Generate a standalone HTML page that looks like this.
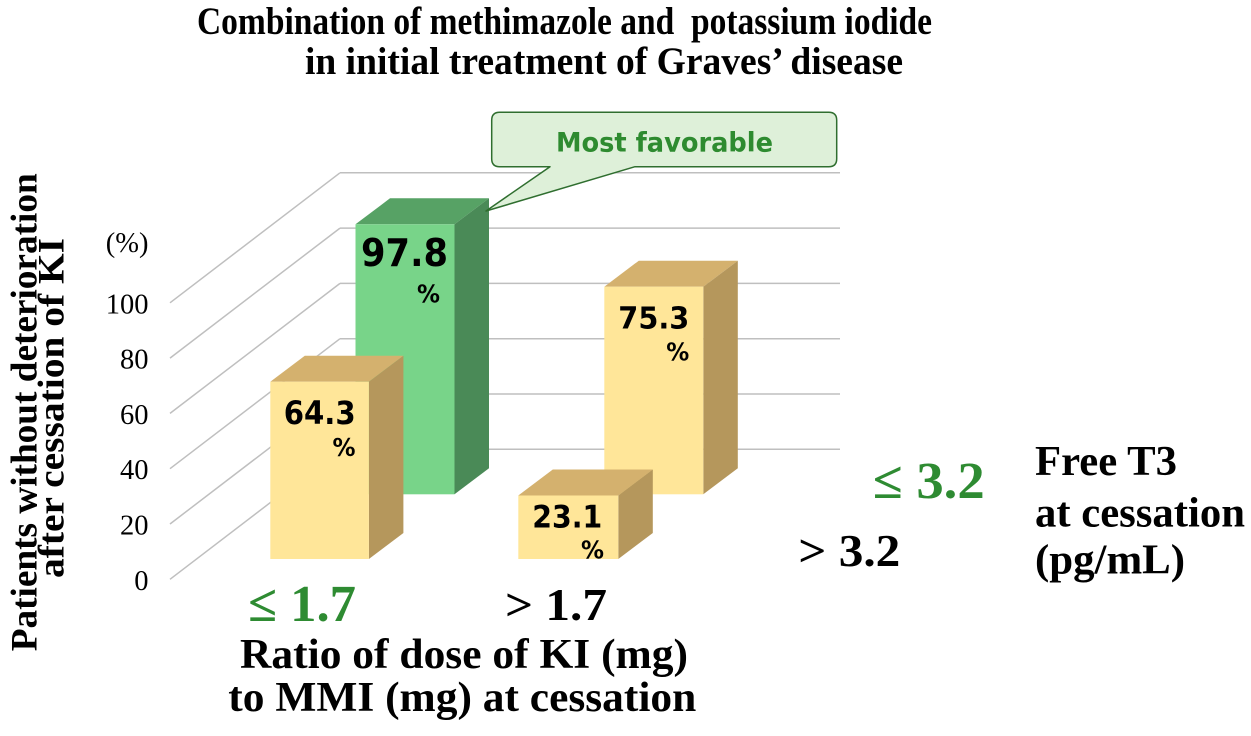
<!DOCTYPE html>
<html>
<head>
<meta charset="utf-8">
<style>
  html,body{margin:0;padding:0;background:#fff;}
  svg{display:block;}
  .serif{font-family:"Liberation Serif","DejaVu Serif",serif;font-weight:bold;}
  .serifr{font-family:"Liberation Serif","DejaVu Serif",serif;font-weight:normal;}
  .sans{font-family:"DejaVu Sans","Liberation Sans",sans-serif;font-weight:bold;}
</style>
</head>
<body>
<svg width="1251" height="736" viewBox="0 0 1251 736" xmlns="http://www.w3.org/2000/svg">
  <rect width="1251" height="736" fill="#ffffff"/>

  <!-- Title -->
  <text class="serif" x="197" y="34" font-size="39" fill="#000" textLength="735" lengthAdjust="spacingAndGlyphs" xml:space="preserve">Combination of methimazole and  potassium iodide</text>
  <text class="serif" x="305" y="74" font-size="39" fill="#000" textLength="598" lengthAdjust="spacingAndGlyphs">in initial treatment of Graves’ disease</text>

  <!-- Gridlines: back wall -->
  <g stroke="#BFBFBF" stroke-width="1.5" fill="none">
    <line x1="340" y1="172.8" x2="840" y2="172.8"/>
    <line x1="340" y1="228.1" x2="840" y2="228.1"/>
    <line x1="340" y1="283.4" x2="840" y2="283.4"/>
    <line x1="340" y1="338.7" x2="840" y2="338.7"/>
    <line x1="340" y1="394.0" x2="840" y2="394.0"/>
    <line x1="340" y1="449.3" x2="840" y2="449.3"/>
    <!-- side wall diagonals -->
    <line x1="170" y1="302.8" x2="340" y2="172.8"/>
    <line x1="170" y1="358.1" x2="340" y2="228.1"/>
    <line x1="170" y1="413.4" x2="340" y2="283.4"/>
    <line x1="170" y1="468.7" x2="340" y2="338.7"/>
    <line x1="170" y1="524.0" x2="340" y2="394.0"/>
    <line x1="170" y1="579.3" x2="340" y2="449.3"/>
  </g>

  <!-- Tick labels -->
  <g class="serifr" font-size="28.5" fill="#000" text-anchor="end">
    <text x="148.5" y="252">(%)</text>
    <text x="148.5" y="313.3">100</text>
    <text x="148.5" y="368.6">80</text>
    <text x="148.5" y="423.9">60</text>
    <text x="148.5" y="479.2">40</text>
    <text x="148.5" y="534.5">20</text>
    <text x="148.5" y="589.8">0</text>
  </g>

  <!-- Y axis title -->
  <text class="serif" transform="translate(36.7,412.3) rotate(-90)" x="0" y="0" font-size="37" text-anchor="middle" fill="#000" textLength="478" lengthAdjust="spacingAndGlyphs">Patients without deterioration</text>
  <text class="serif" transform="translate(63.3,408) rotate(-90)" x="0" y="0" font-size="37" text-anchor="middle" fill="#000" textLength="340" lengthAdjust="spacingAndGlyphs">after cessation of KI</text>

  <!-- Back row bars -->
  <g>
    <polygon points="355.5,224.3 390,198.3 489,198.3 454.5,224.3" fill="#57A265"/>
    <polygon points="454.5,224.3 489,198.3 489,468.3 454.5,494.3" fill="#4A8A57"/>
    <rect x="355.5" y="224.3" width="99" height="270" fill="#78D489"/>
  </g>
  <g>
    <polygon points="604.3,286.7 638.8,260.7 737.8,260.7 703.3,286.7" fill="#D4B16E"/>
    <polygon points="703.3,286.7 737.8,260.7 737.8,468.3 703.3,494.3" fill="#B5975C"/>
    <rect x="604.3" y="286.7" width="99" height="207.6" fill="#FFE699"/>
  </g>

  <!-- Front row bars -->
  <g>
    <polygon points="270.3,381.7 304.8,355.7 403.4,355.7 368.9,381.7" fill="#D4B16E"/>
    <polygon points="368.9,381.7 403.4,355.7 403.4,533 368.9,559" fill="#B5975C"/>
    <rect x="270.3" y="381.7" width="98.6" height="177.3" fill="#FFE699"/>
  </g>
  <g>
    <polygon points="518.3,495.5 552.8,469.5 652.8,469.5 618.3,495.5" fill="#D4B16E"/>
    <polygon points="618.3,495.5 652.8,469.5 652.8,533 618.3,559" fill="#B5975C"/>
    <rect x="518.3" y="495.5" width="100" height="63.5" fill="#FFE699"/>
  </g>

  <!-- Bar value labels -->
  <g class="sans" fill="#000">
    <text x="361" y="266" font-size="38" textLength="87" lengthAdjust="spacingAndGlyphs">97.8</text>
    <text x="440" y="302.7" font-size="25" text-anchor="end" textLength="23" lengthAdjust="spacingAndGlyphs">%</text>

    <text x="283.7" y="424" font-size="32" textLength="72" lengthAdjust="spacingAndGlyphs">64.3</text>
    <text x="355.5" y="456" font-size="25" text-anchor="end" textLength="23" lengthAdjust="spacingAndGlyphs">%</text>

    <text x="618.3" y="328.3" font-size="30" textLength="71" lengthAdjust="spacingAndGlyphs">75.3</text>
    <text x="689.3" y="360.7" font-size="25" text-anchor="end" textLength="23" lengthAdjust="spacingAndGlyphs">%</text>

    <text x="532.3" y="527.3" font-size="31" textLength="70" lengthAdjust="spacingAndGlyphs">23.1</text>
    <text x="604" y="558.5" font-size="25" text-anchor="end" textLength="23" lengthAdjust="spacingAndGlyphs">%</text>
  </g>

  <!-- Callout -->
  <path d="M499.7,112.3 H828.7 Q836.7,112.3 836.7,120.3 V158.7 Q836.7,166.7 828.7,166.7 H635 L486,211 L550,166.7 H499.7 Q491.7,166.7 491.7,158.7 V120.3 Q491.7,112.3 499.7,112.3 Z" fill="#DEF0D9" stroke="#2F6E2F" stroke-width="1.5" stroke-linejoin="round"/>
  <text class="sans" x="556" y="151.5" font-size="27" fill="#2E8B30" textLength="217" lengthAdjust="spacingAndGlyphs">Most favorable</text>

  <!-- Category labels -->
  <text class="serif" x="248" y="621" font-size="52" fill="#2E8B32" textLength="108" lengthAdjust="spacingAndGlyphs">≤ 1.7</text>
  <text class="serif" x="505" y="620" font-size="45" fill="#000" textLength="102" lengthAdjust="spacingAndGlyphs">&gt; 1.7</text>

  <text class="serif" x="240" y="668" font-size="42" fill="#000" textLength="448" lengthAdjust="spacingAndGlyphs">Ratio of dose of KI (mg)</text>
  <text class="serif" x="228.3" y="711" font-size="42" fill="#000" textLength="468" lengthAdjust="spacingAndGlyphs">to MMI (mg) at cessation</text>

  <text class="serif" x="872.7" y="498" font-size="52" fill="#2E8B32" textLength="112" lengthAdjust="spacingAndGlyphs">≤ 3.2</text>
  <text class="serif" x="798.3" y="566" font-size="46" fill="#000" textLength="102" lengthAdjust="spacingAndGlyphs">&gt; 3.2</text>

  <text class="serif" x="1035" y="475" font-size="42" fill="#000" textLength="142" lengthAdjust="spacingAndGlyphs">Free T3</text>
  <text class="serif" x="1035" y="526.7" font-size="42" fill="#000" textLength="210" lengthAdjust="spacingAndGlyphs">at cessation</text>
  <text class="serif" x="1035" y="573.3" font-size="42" fill="#000" textLength="150" lengthAdjust="spacingAndGlyphs">(pg/mL)</text>
</svg>
</body>
</html>
